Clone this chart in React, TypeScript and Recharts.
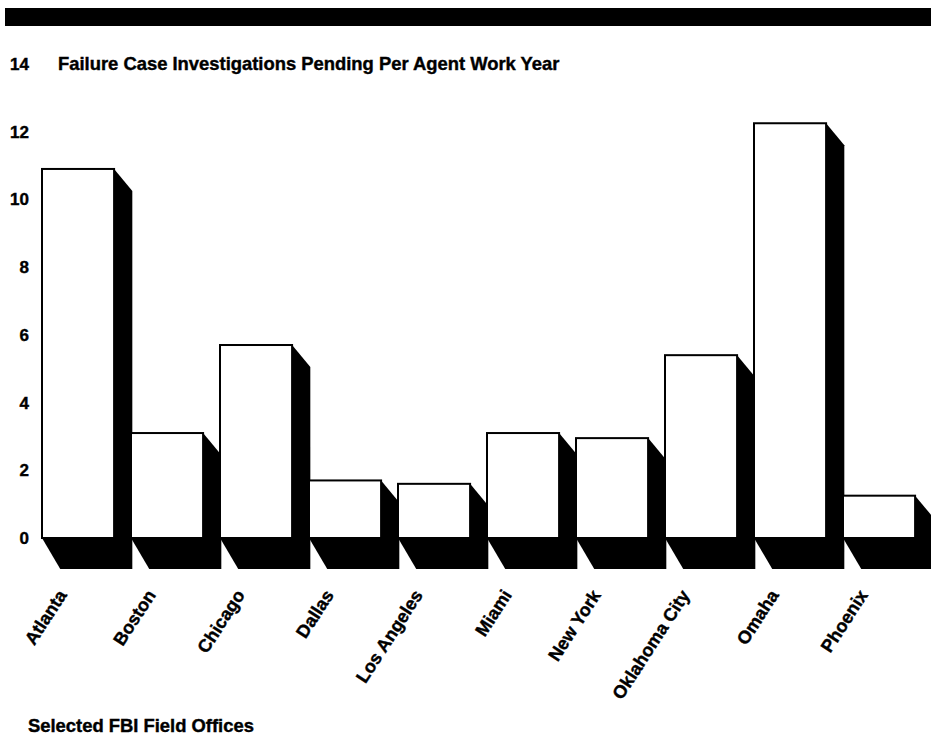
import React from 'react'
import { BarChart, Bar, XAxis, YAxis } from 'recharts'

const offices = ['Atlanta', 'Boston', 'Chicago', 'Dallas', 'Los Angeles', 'Miami', 'New York', 'Oklahoma City', 'Omaha', 'Phoenix']
const pending = [10.9, 3.1, 5.7, 1.7, 1.6, 3.1, 2.95, 5.4, 12.25, 1.25]
const yTicks = [0, 2, 4, 6, 8, 10, 12, 14]

const FONT = '"Liberation Sans", Arial, Helvetica, sans-serif'

const data = offices.map((office, i) => ({ office, value: pending[i] }))

// caja blanca con sombra negra en "3D" (cara frontal + extrusión abajo-derecha)
function Box3D(props: any) {
  const { x, y, width, height } = props
  if (width == null || height == null) return null
  const fw = width * 0.81
  const dx = width * 0.205
  const dyTop = 22
  const dyBot = 31
  const L = x, R = x + fw, T = y, B = y + height
  const shadow = `${R},${T} ${R + dx},${T + dyTop} ${R + dx},${B + dyBot} ${L + dx},${B + dyBot} ${L},${B}`
  return (
    <g>
      <polygon points={shadow} fill="#000" />
      <rect x={L} y={T} width={fw} height={height} fill="#fff" stroke="#000" strokeWidth={2} />
    </g>
  )
}

function XTick(props: any) {
  const { x, y, payload } = props
  return (
    <g transform={`translate(${x - 19},${y + 55})`}>
      <text textAnchor="end" transform="rotate(-57)" fontFamily={FONT} fontWeight="bold" fontSize={18}
        fill="#000" stroke="#000" strokeWidth={0.4}>
        {payload.value}
      </text>
    </g>
  )
}

export default function App() {
  return (
    <div style={{ position: 'absolute', left: 0, top: 0, width: 931, height: 737, overflow: 'hidden', background: '#fff', fontFamily: FONT }}>
      <div style={{ position: 'absolute', left: 5, top: 8, width: 926, height: 18, background: '#000' }} />
      <div style={{ position: 'absolute', left: 58, top: 53, fontSize: 18.4, fontWeight: 'bold', lineHeight: '22px', whiteSpace: 'nowrap', WebkitTextStroke: '0.4px #000' }}>
        Failure Case Investigations Pending Per Agent Work Year
      </div>
      <BarChart width={932} height={737} data={data} barCategoryGap={0} barGap={0}
        margin={{ top: 64, right: 0, left: 0, bottom: 59 }}>
        <YAxis type="number" domain={[0, 14]} ticks={yTicks} width={42} axisLine={false} tickLine={false}
          tickSize={0} tickMargin={13} interval={0}
          tick={{ fontSize: 17, fontWeight: 'bold', fill: '#000', fontFamily: FONT, stroke: '#000', strokeWidth: 0.4 }} />
        <XAxis dataKey="office" height={140} axisLine={false} tickLine={false} tickSize={0} interval={0}
          tick={(p: any) => <XTick {...p} />} />
        <Bar dataKey="value" isAnimationActive={false} shape={(p: any) => <Box3D {...p} />} />
      </BarChart>
      <div style={{ position: 'absolute', left: 28, top: 715, fontSize: 18.4, fontWeight: 'bold', lineHeight: '22px', whiteSpace: 'nowrap', WebkitTextStroke: '0.4px #000' }}>
        Selected FBI Field Offices
      </div>
    </div>
  )
}
